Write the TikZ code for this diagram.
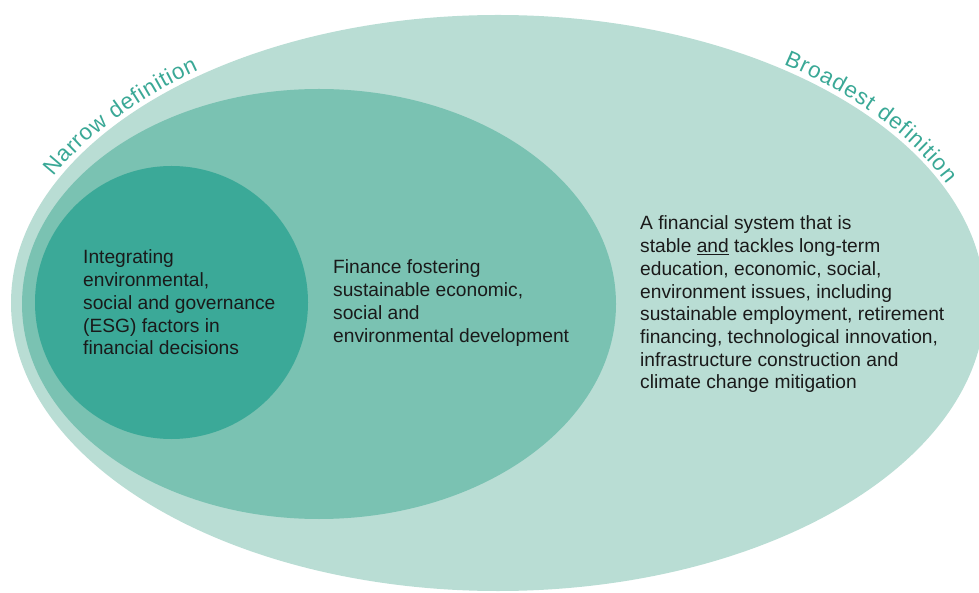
\documentclass[tikz,border=0pt]{standalone}
\usepackage{fontspec}
\setmainfont{Liberation Sans}
\usetikzlibrary{decorations.text}
\definecolor{bigfill}{HTML}{B9DDD4}
\definecolor{midfill}{HTML}{7AC2B2}
\definecolor{innfill}{HTML}{3BA998}
\definecolor{labcol}{HTML}{3AA896}
\definecolor{txtcol}{HTML}{1A1A1A}
\newcommand\labfont{\fontsize{22.5}{22.5}\selectfont\color{labcol}}
\begin{document}
\begin{tikzpicture}[x=1pt,y=1pt,
  body/.style={align=left, anchor=base west, inner sep=0pt, text=txtcol,
    font=\fontsize{19.2}{22.7}\selectfont},
  arclabel/.style={decorate, decoration={text along path, text align=fit to path, text={#1}}}]
\useasboundingbox (0,0) rectangle (979,592);
\clip (0,0) rectangle (979,592);
\coordinate (bigc) at (498,289);
\coordinate (midc) at (319,288);
\coordinate (innc) at (171.5,289.5);
\fill[bigfill] (bigc) ellipse [x radius=487pt, y radius=288pt];
\fill[midfill] (midc) ellipse [x radius=297pt, y radius=215pt];
\fill[innfill] (innc) circle [radius=136.5pt];
\path[arclabel={|\labfont|Narrow definition}] (bigc) ++(154.5:492pt and 293pt)
  arc[start angle=154.5, end angle=127.5, x radius=492pt, y radius=293pt];
\path[arclabel={|\labfont|Broadest definition}] (bigc) ++(54.5:492pt and 293pt)
  arc[start angle=54.5, end angle=24, x radius=492pt, y radius=293pt];
\node[body] (inntext) at (83,237.2) {Integrating\\environmental,\\social and governance\\(ESG) factors in\\financial decisions};
\node[body] (midtext) at (333,249.9) {Finance fostering\\sustainable economic,\\social and\\environmental development};
\node[body] (bigtext) at (640,203.1) {A financial system that is\\stable \underline{and} tackles long-term\\education, economic, social,\\environment issues, including\\sustainable employment, retirement\\financing, technological innovation,\\infrastructure construction and\\climate change mitigation};
\end{tikzpicture}
\end{document}
